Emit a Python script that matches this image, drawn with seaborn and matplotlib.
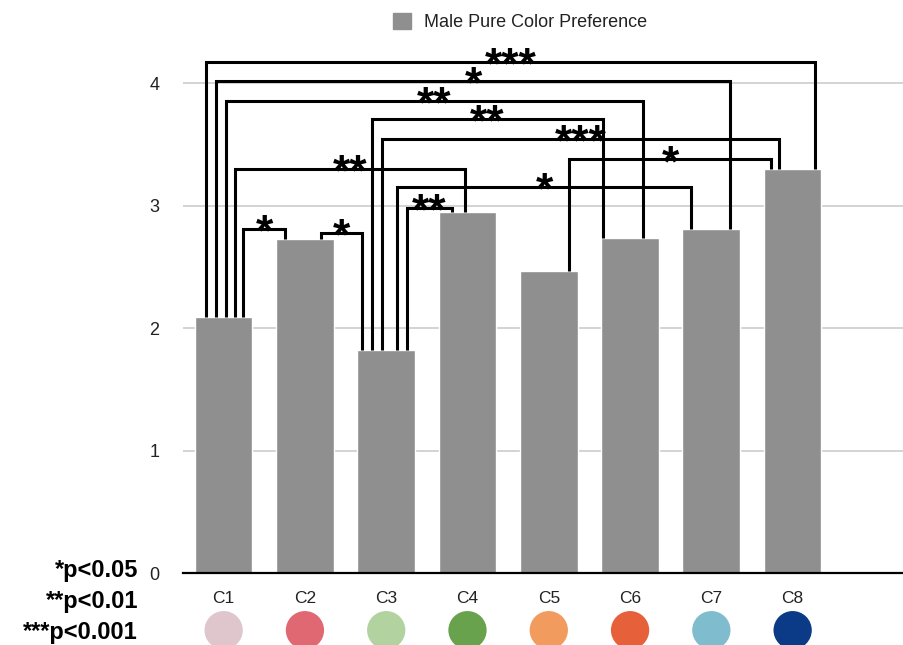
import matplotlib
matplotlib.use("Agg")
import matplotlib.pyplot as plt
import seaborn as sns
import pandas as pd
from matplotlib.patches import Patch
from matplotlib.transforms import blended_transform_factory

# ---- data ----
categories = ["C1", "C2", "C3", "C4", "C5", "C6", "C7", "C8"]
values = [2.09, 2.73, 1.82, 2.95, 2.47, 2.74, 2.81, 3.30]
swatch_colors = ["#DFC5CC", "#E06873", "#B2D3A0", "#68A24D",
                 "#F19B5E", "#E6613A", "#7FBCCE", "#0B3A87"]
series_name = "Male Pure Color Preference"
yticks = [0, 1, 2, 3, 4]

# significance comparisons (category index pairs) and their labels
comparisons = [(0, 7), (0, 6), (0, 5), (2, 5), (2, 7), (4, 7),
               (0, 3), (2, 6), (2, 3), (0, 1), (1, 2)]
stars = ["***", "*", "**", "**", "***", "*", "**", "*", "**", "*", "*"]
sig_legend = ["*p<0.05", "**p<0.01", "***p<0.001"]

# ---- bracket layout (heights in data units, leg offsets in category units) ----
bracket_heights = [4.175, 4.02, 3.855, 3.71, 3.545, 3.38, 3.30, 3.155, 2.985, 2.81, 2.78]
leg_offsets = [(-0.216, 0.277), (-0.092, 0.23), (0.03, 0.16), (-0.18, -0.33),
               (-0.05, -0.17), (0.25, -0.265), (0.14, -0.025), (0.135, -0.25),
               (0.25, -0.185), (0.24, -0.245), (0.2, -0.295)]

sns.set_style("white")
plt.rcParams["font.family"] = ["Liberation Sans", "DejaVu Sans"]

fig = plt.figure(figsize=(9.04, 6.45), dpi=100)
ax = fig.add_axes([183 / 904, (645 - 573.3) / 645, 721 / 904, 526.75 / 645])

df = pd.DataFrame({"cat": categories, "val": values})
sns.barplot(data=df, x="cat", y="val", color="#8F8F8F", saturation=1,
            width=0.71, ax=ax, zorder=2)

ax.set_xlim(-0.5, 8.37)
ax.set_ylim(0, 4.3)
ax.set_yticks(yticks)
ax.set_yticklabels([str(t) for t in yticks])
ax.set_xlabel("")
ax.set_ylabel("")

for t in yticks[1:]:
    ax.axhline(t, color="#CCCCCC", lw=1.2, zorder=0)

for s in ["left", "right", "top"]:
    ax.spines[s].set_visible(False)
ax.spines["bottom"].set_color("black")
ax.spines["bottom"].set_linewidth(1.6)
ax.spines["bottom"].set_zorder(4)

ax.tick_params(axis="y", length=0, pad=17, labelsize=13, labelcolor="#222222")
ax.tick_params(axis="x", length=0, pad=13, labelsize=12.5, labelcolor="#222222")

# significance brackets
for (i, j), lab, h, (ol, orr) in zip(comparisons, stars, bracket_heights, leg_offsets):
    xl, xr = i + ol, j + orr
    ax.plot([xl, xl, xr, xr], [values[i], h, h, values[j]], color="black",
            lw=2.2, solid_joinstyle="miter", solid_capstyle="butt",
            clip_on=False, zorder=3)
    ax.annotate(lab, xy=((xl + xr) / 2, h), xytext=(0, -12.0),
                textcoords="offset points", ha="center", va="baseline",
                fontsize=32, fontweight="bold", color="black",
                annotation_clip=False, zorder=5)

# colour swatches under the category labels
trans = blended_transform_factory(ax.transData, ax.transAxes)
ax.scatter(range(len(categories)), [-0.108] * len(categories), s=760,
           c=swatch_colors, marker="o", linewidths=0, transform=trans,
           clip_on=False, zorder=5)

# significance legend on the left
for k, txt in enumerate(sig_legend):
    fig.text(138 / 904, 1 - (577 + 31 * k) / 645, txt, ha="right", va="baseline",
             fontsize=17, fontweight="bold", color="black")

fig.legend(handles=[Patch(color="#8F8F8F", label=series_name)], loc="center",
           bbox_to_anchor=(0.575, 0.966), frameon=False, fontsize=13,
           handlelength=1.0, handleheight=1.0, handletextpad=0.7,
           labelcolor="#222222")

fig.savefig("out.png", dpi=100)
